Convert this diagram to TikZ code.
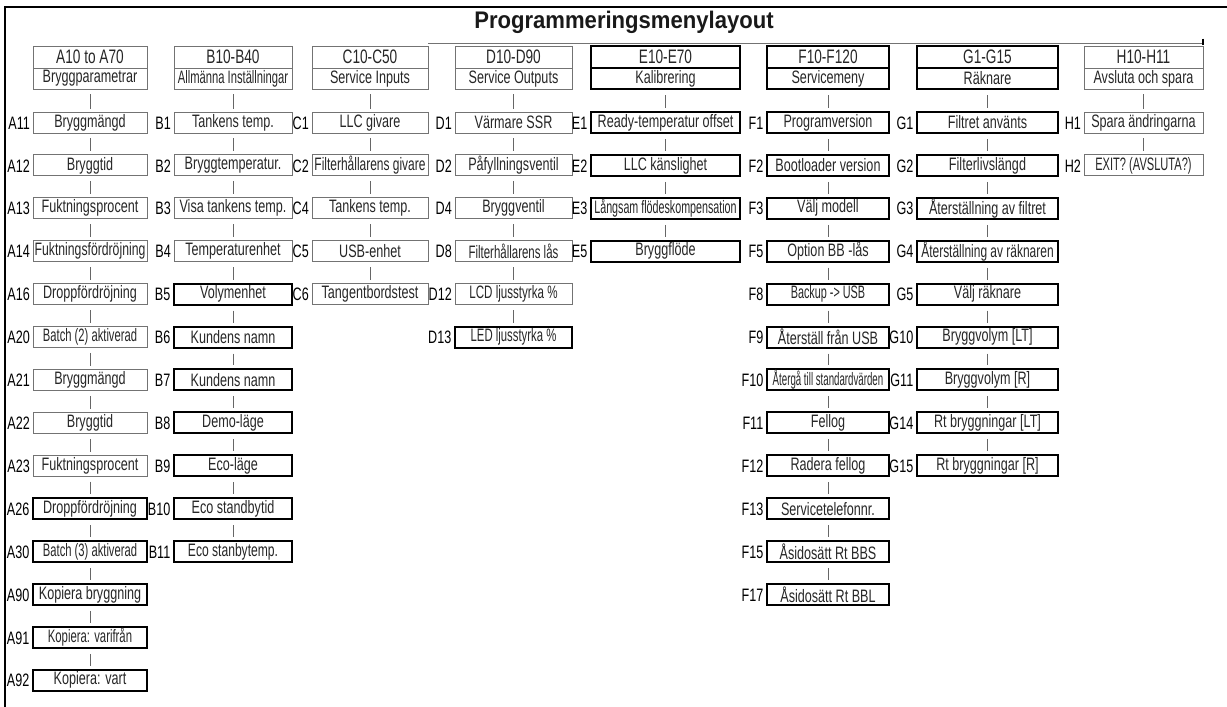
\documentclass[tikz,border=0pt]{standalone}
\usepackage{fontspec}
\setmainfont{Liberation Sans}[FakeStretch=0.7]
\newfontfamily\titlefont{Liberation Sans}[FakeStretch=0.92]
\usepackage{graphicx}
\tikzset{
  thinbox/.style={draw=black!55, line width=0.9pt},
  thickbox/.style={draw=black, line width=2pt},
  box/.style={rectangle, inner sep=0pt, minimum height=21pt, font=\fontsize{18}{20}\selectfont, text=black!85},
  conn/.style={draw=black!60, line width=0.9pt, shorten <=5pt, shorten >=3pt},
  lbl/.style={anchor=east, inner sep=0pt, font=\fontsize{18}{20}\selectfont, text=black},
}
% #1 prefix, #2 centre x, #3 width, #4 header style, #5 top text, #6 bottom text, #7 items
\newcommand\mcol[7]{%
  \node[box,#4,minimum width=#3pt,minimum height=22pt,font=\fontsize{19.5}{21}\selectfont] (#1h) at (#2,57) {#5};
  \node[box,#4,minimum width=#3pt] (#10) at (#2,78.5) {#6};
  \foreach \lab/\txt/\st/\sc [count=\i, remember=\i as \last (initially 0)] in {#7} {
    \node[box,\st,minimum width=#3pt] (#1\i) at (#2,{122.5+42.9*(\i-1)}) {\scalebox{\sc}[1]{\txt}};
    \node[lbl] (#1l\i) at ([xshift=-2.5pt,yshift=-0.5pt]#1\i.west) {\lab};
    \draw[conn] (#1\last) -- (#1\i);
  }%
}
\begin{document}
\begin{tikzpicture}[x=1pt,y=-1pt]
\useasboundingbox (0,0) rectangle (1227,707);
% frame and title
\coordinate (tr) at (1227,7);
\coordinate (tl) at (5,7);
\coordinate (bl) at (5,707);
\draw[line width=2pt] (tr) -- (tl) -- (bl);
\coordinate (gl) at (428,43.5);
\coordinate (gr) at (1203,43.5);
\coordinate (tk1) at (1203,38.5);
\coordinate (tk2) at (1203,45);
\draw[black!55, line width=1pt] (gl) -- (gr);
\draw[black, line width=1.2pt] (tk1) -- (tk2);
\node[font={\titlefont\bfseries\fontsize{24}{26}\selectfont}, text=black!90] (title) at (624,22) {Programmeringsmenylayout};

\mcol{A}{90}{114}{thinbox}{A10 to A70}{Bryggparametrar}{%
A11/Bryggmängd/thinbox/1,
A12/Bryggtid/thinbox/1,
A13/Fuktningsprocent/thinbox/1,
A14/Fuktningsfördröjning/thinbox/0.97,
A16/Droppfördröjning/thinbox/1,
A20/Batch (2) aktiverad/thinbox/0.89,
A21/Bryggmängd/thinbox/1,
A22/Bryggtid/thinbox/1,
A23/Fuktningsprocent/thinbox/1,
A26/Droppfördröjning/thickbox/1,
A30/Batch (3) aktiverad/thickbox/0.89,
A90/Kopiera bryggning/thickbox/1,
A91/Kopiera: varifrån/thickbox/0.9,
A92/Kopiera: vart/thickbox/1}

\mcol{B}{233}{118}{thinbox}{B10-B40}{\scalebox{0.89}[1]{Allmänna Inställningar}}{%
B1/Tankens temp./thinbox/1,
B2/Bryggtemperatur./thinbox/1,
B3/Visa tankens temp./thinbox/1,
B4/Temperaturenhet/thinbox/1,
B5/Volymenhet/thickbox/1,
B6/Kundens namn/thickbox/1,
B7/Kundens namn/thickbox/1,
B8/Demo-läge/thickbox/1,
B9/Eco-läge/thickbox/1,
B10/Eco standbytid/thickbox/1,
B11/Eco stanbytemp./thickbox/0.96}

\mcol{C}{370}{116}{thinbox}{C10-C50}{Service Inputs}{%
C1/LLC givare/thinbox/1,
C2/Filterhållarens givare/thinbox/0.95,
C4/Tankens temp./thinbox/1,
C5/USB-enhet/thinbox/1,
C6/Tangentbordstest/thinbox/1}

\mcol{D}{513.5}{117}{thinbox}{D10-D90}{Service Outputs}{%
D1/Värmare SSR/thinbox/1,
D2/Påfyllningsventil/thinbox/1,
D4/Bryggventil/thinbox/1,
D8/Filterhållarens lås/thinbox/0.91,
D12/LCD ljusstyrka \%/thinbox/0.92,
D13/LED ljusstyrka \%/thickbox/0.9}

\mcol{E}{665.5}{149}{thickbox}{E10-E70}{Kalibrering}{%
E1/Ready-temperatur offset/thickbox/1,
E2/LLC känslighet/thickbox/1,
E3/Långsam flödeskompensation/thickbox/0.85,
E5/Bryggflöde/thickbox/1}

\mcol{F}{828}{122}{thickbox}{F10-F120}{Servicemeny}{%
F1/Programversion/thickbox/1,
F2/Bootloader version/thickbox/1,
F3/Välj modell/thickbox/1,
F5/Option BB -lås/thickbox/1,
F8/Backup -> USB/thickbox/0.86,
F9/Återställ från USB/thickbox/1,
F10/Återgå till standardvärden/thickbox/0.77,
F11/Fellog/thickbox/1,
F12/Radera fellog/thickbox/1,
F13/Servicetelefonnr./thickbox/1,
F15/Åsidosätt Rt BBS/thickbox/1,
F17/Åsidosätt Rt BBL/thickbox/1}

\mcol{G}{987.5}{141}{thickbox}{G1-G15}{Räknare}{%
G1/Filtret använts/thickbox/1,
G2/Filterlivslängd/thickbox/1,
G3/Återställning av filtret/thickbox/1,
G4/Återställning av räknaren/thickbox/0.95,
G5/Välj räknare/thickbox/1,
G10/Bryggvolym [LT]/thickbox/1,
G11/Bryggvolym [R]/thickbox/1,
G14/Rt bryggningar [LT]/thickbox/1,
G15/Rt bryggningar [R]/thickbox/1}

\mcol{H}{1143.5}{119}{thinbox}{H10-H11}{Avsluta och spara}{%
H1/Spara ändringarna/thinbox/1,
H2/EXIT? (AVSLUTA?)/thinbox/0.88}
\end{tikzpicture}
\end{document}
